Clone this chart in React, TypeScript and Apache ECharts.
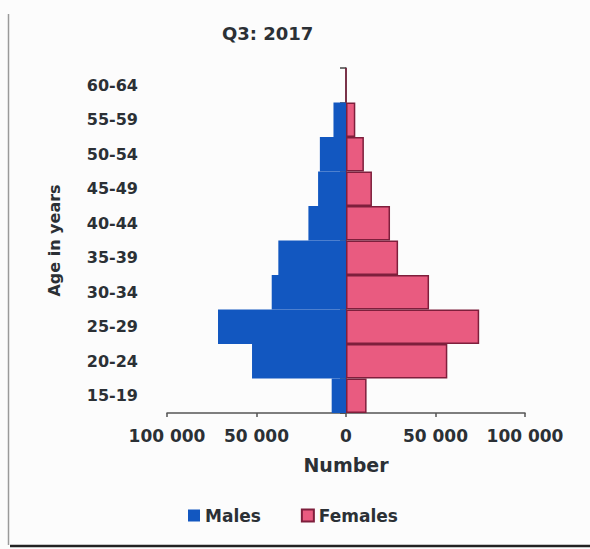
import React, { useEffect, useRef } from "react";
import * as echarts from "echarts";

const categories = ["15-19", "20-24", "25-29", "30-34", "35-39", "40-44", "45-49", "50-54", "55-59", "60-64"];
const males = [8000, 52500, 71500, 41500, 37800, 21000, 15600, 14600, 7000, 0];
const females = [11500, 56600, 74400, 46400, 29100, 24600, 14500, 10000, 5200, 0];
const xTicks = { min: -100000, max: 100000, interval: 50000 };
const titleText = "Q3: 2017";
const xName = "Number";
const yName = "Age in years";
const seriesNames = ["Males", "Females"];

const FONT = "DejaVu Sans";
const TXT = "#2b3035";

function fmt(v: number): string {
  const s = String(Math.abs(v));
  return s.replace(/\B(?=(\d{3})+(?!\d))/g, " ");
}

export default function App() {
  const ref = useRef<HTMLDivElement>(null);
  useEffect(() => {
    if (!ref.current) return;
    const chart = echarts.init(ref.current, undefined, { renderer: "svg" });
    chart.setOption({
      animation: false,
      backgroundColor: "#fcfcfc",
      title: {
        text: titleText,
        left: 222,
        top: 24,
        padding: 0,
        textStyle: { fontFamily: FONT, fontWeight: "bold", fontSize: 18, color: TXT },
      },
      legend: {
        left: 188,
        top: 507,
        padding: 0,
        itemWidth: 12,
        itemHeight: 12,
        itemGap: 40,
        icon: "rect",
        textStyle: { fontFamily: FONT, fontWeight: "bold", fontSize: 17, color: TXT },
        data: seriesNames,
      },
      grid: { left: 167, right: 65, top: 68, bottom: 136 },
      xAxis: {
        type: "value",
        min: xTicks.min,
        max: xTicks.max,
        interval: xTicks.interval,
        splitLine: { show: false },
        axisLine: { show: true, onZero: false, lineStyle: { color: "#555", width: 1.5 } },
        axisTick: { show: true, length: 4, lineStyle: { color: "#555", width: 1.5 } },
        axisLabel: {
          margin: 14,
          fontFamily: FONT,
          fontWeight: "bold",
          fontSize: 17,
          color: TXT,
          formatter: (v: number) => fmt(v),
        },
        name: xName,
        nameLocation: "middle",
        nameGap: 42,
        nameTextStyle: { fontFamily: FONT, fontWeight: "bold", fontSize: 19, color: TXT },
      },
      yAxis: [
        {
          type: "category",
          data: categories,
          position: "left",
          axisLine: { show: false, onZero: false },
          axisTick: { show: false },
          axisLabel: { margin: 29, fontFamily: FONT, fontWeight: "bold", fontSize: 16, color: TXT },
          name: yName,
          nameLocation: "middle",
          nameGap: 105,
          nameTextStyle: { fontFamily: FONT, fontWeight: "bold", fontSize: 16, color: TXT },
        },
        {
          type: "category",
          data: categories,
          axisLine: { show: true, onZero: true, lineStyle: { color: "#444", width: 1.5 } },
          axisTick: { show: true, inside: false, length: 6, lineStyle: { color: "#444", width: 1.5 } },
          axisLabel: { show: false },
          position: "left",
        },
      ],
      series: [
        {
          name: seriesNames[0],
          type: "bar",
          barGap: "-100%",
          barCategoryGap: 0,
          data: males.map((v) => -v),
          itemStyle: { color: "#1257c0", borderWidth: 0 },
        },
        {
          name: seriesNames[1],
          type: "bar",
          barGap: "-100%",
          barCategoryGap: 0,
          data: females,
          itemStyle: { color: "#e95b80", borderColor: "#7e1f3c", borderWidth: 1.5 },
        },
      ],
      graphic: [
        { type: "line", shape: { x1: 8.5, y1: 14, x2: 8.5, y2: 545 }, style: { stroke: "#9a9a9a", lineWidth: 1.5 } },
        { type: "line", shape: { x1: 10, y1: 546, x2: 590, y2: 546 }, style: { stroke: "#222", lineWidth: 2.5 } },
      ],
    });
    return () => chart.dispose();
  }, []);
  return <div ref={ref} style={{ position: "fixed", left: 0, top: 0, width: 590, height: 549 }} />;
}
